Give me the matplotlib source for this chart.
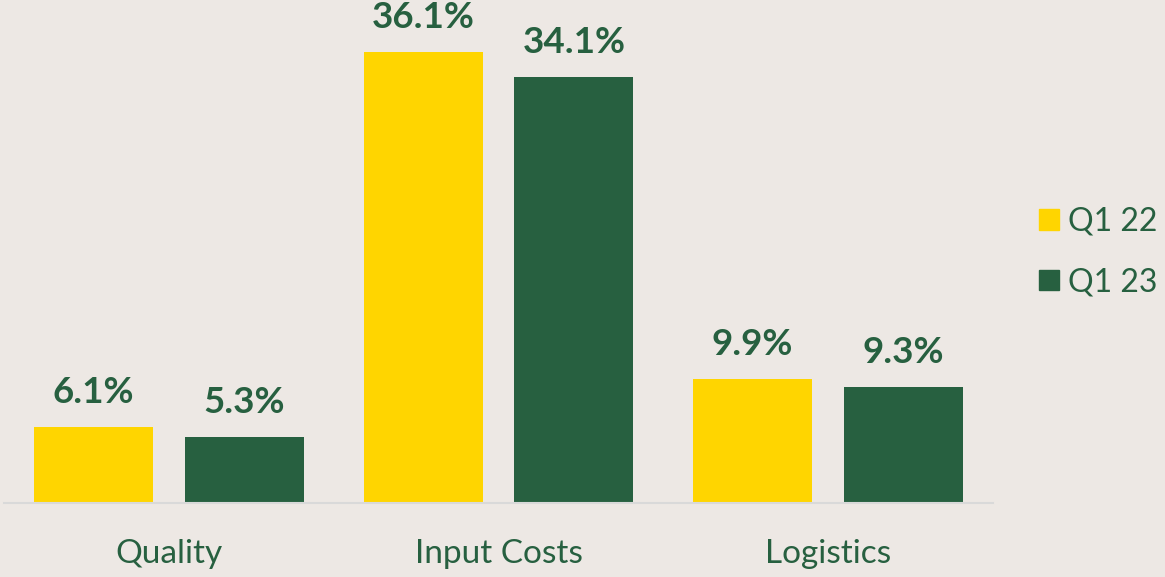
import matplotlib.pyplot as plt
import numpy as np
from matplotlib.patches import Patch

categories = ["Quality", "Input Costs", "Logistics"]
q1_22 = [6.1, 36.1, 9.9]
q1_23 = [5.3, 34.1, 9.3]
series_names = ["Q1 22", "Q1 23"]

bg = "#EDE8E4"
yellow = "#FFD500"
green = "#276040"

plt.rcParams['font.family'] = ['Lato', 'DejaVu Sans']

fig = plt.figure(figsize=(11.65, 5.77), dpi=100, facecolor=bg)
ax = fig.add_axes([4 / 1165, 74 / 577, 989 / 1165, 503 / 577])
ax.set_facecolor(bg)

x = np.arange(len(categories))
w = 0.361
off = 0.229
b1 = ax.bar(x - off, q1_22, w, color=yellow)
b2 = ax.bar(x + off, q1_23, w, color=green)

for bars, vals in ((b1, q1_22), (b2, q1_23)):
    for rect, v in zip(bars, vals):
        ax.annotate(f"{v:.1f}%", (rect.get_x() + rect.get_width() / 2, v),
                    xytext=(0, 13), textcoords="offset points",
                    ha="center", va="bottom", fontsize=26.5, fontweight="bold",
                    color=green)

ax.set_xlim(-0.5, 2.5)
ax.set_ylim(0, 40.27)
ax.set_xticks(x)
ax.set_xticklabels(categories, fontsize=24, color=green)
ax.tick_params(axis="x", length=0, pad=26)
ax.set_yticks([])
for s in ["top", "right", "left"]:
    ax.spines[s].set_visible(False)
ax.spines["bottom"].set_color("#D9D9D9")
ax.spines["bottom"].set_linewidth(1.5)

handles = [Patch(color=yellow), Patch(color=green)]
fig.legend(handles, series_names, loc="center left",
           bbox_to_anchor=(1039 / 1165, 1 - 252 / 577), frameon=False,
           borderpad=0, borderaxespad=0,
           fontsize=23, labelcolor=green, handlelength=0.62, handleheight=0.62,
           handletextpad=0.3, labelspacing=0.95)

fig.savefig("out.png", dpi=100, facecolor=bg)
